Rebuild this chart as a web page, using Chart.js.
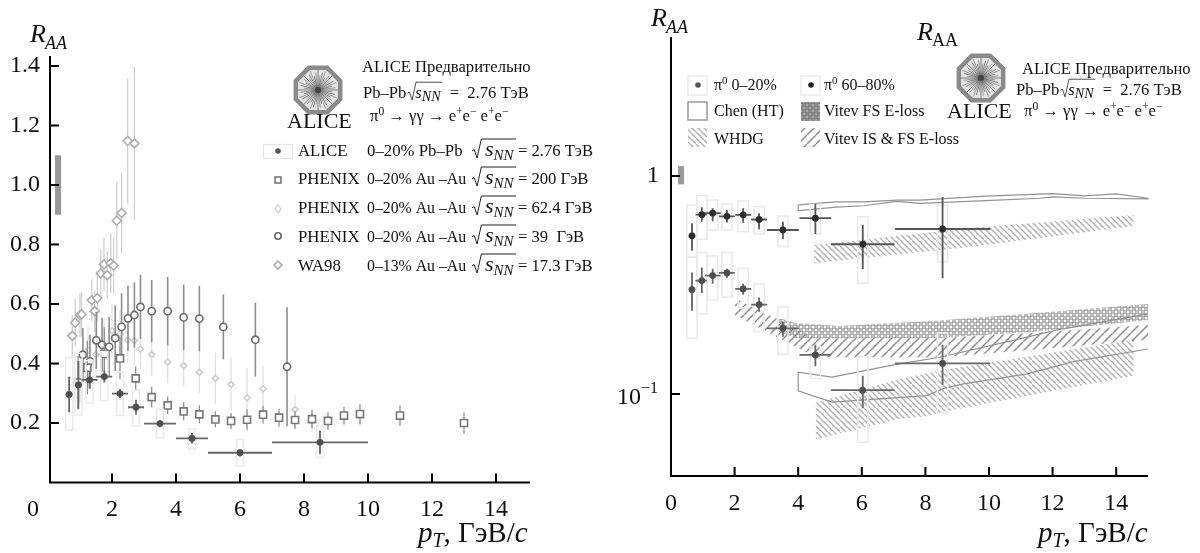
<!DOCTYPE html>
<html>
<head>
<meta charset="utf-8">
<script src="https://cdn.jsdelivr.net/npm/chart.js@4"></script>
<style>
html,body{margin:0;padding:0;background:#fff;overflow:hidden}
canvas{position:absolute;top:0}
#leftChart{left:0}
#rightChart{left:600px}
</style>
</head>
<body>
<canvas id="leftChart" width="600" height="553"></canvas>
<canvas id="rightChart" width="600" height="553"></canvas>
<script>
// left panel data, pT in GeV/c
const xTicks=[0,2,4,6,8,10,12,14];
const leftYTicks=[0.2,0.4,0.6,0.8,1.0,1.2,1.4];
const leftNorm=[0.9,1.1];

const alicePt=[0.66,0.95,1.3,1.76,2.25,2.75,3.5,4.5,6,8.5];
const aliceR=[0.296,0.328,0.345,0.356,0.299,0.253,0.198,0.148,0.100,0.135];
const aliceErr=[0.06,0.08,0.03,0.02,0.015,0.025,0.012,0.018,0.013,0.04];
const alicePtErr=[0.1,0.1,0.25,0.25,0.25,0.25,0.5,0.5,1,1.5];
const aliceSysLow=[0.176,0.227,0.266,0.275,0.225,0.19,0.15,0.112,0.056,0.085];
const aliceSysHigh=[0.42,0.434,0.41,0.44,0.372,0.311,0.246,0.179,0.145,0.19];

const ph200Pt=[0.94,1.23,1.76,2.25,2.74,3.24,3.74,4.24,4.73,5.23,5.72,6.22,6.72,7.22,7.72,8.25,8.75,9.25,9.75,11,13];
const ph200R=[0.336,0.386,0.432,0.417,0.35,0.287,0.259,0.239,0.229,0.212,0.207,0.211,0.228,0.218,0.21,0.213,0.207,0.225,0.23,0.225,0.2];
const ph200Err=[0.09,0.09,0.09,0.07,0.04,0.035,0.03,0.03,0.03,0.027,0.027,0.035,0.03,0.03,0.03,0.03,0.03,0.03,0.035,0.035,0.035];

const ph62Pt=[1.0,1.25,1.5,1.75,2.0,2.25,2.49,2.7,2.89,3.24,3.74,4.24,4.73,5.23,5.72,6.22,6.72,7.72,8.25];
const ph62R=[0.34,0.445,0.43,0.46,0.51,0.50,0.479,0.477,0.448,0.43,0.405,0.393,0.37,0.35,0.33,0.285,0.315,0.245,0.21];
const ph62Err=[0.07,0.08,0.09,0.09,0.09,0.08,0.075,0.08,0.07,0.07,0.07,0.07,0.07,0.087,0.09,0.1,0.075,0.05,0.04];

const ph39Pt=[1.09,1.31,1.51,1.69,1.91,2.1,2.3,2.5,2.7,2.89,3.24,3.74,4.24,4.73,5.48,6.48,7.47];
const ph39R=[0.429,0.407,0.478,0.463,0.456,0.485,0.523,0.552,0.563,0.59,0.576,0.576,0.555,0.551,0.523,0.48,0.389];
const ph39Err=[0.09,0.09,0.096,0.09,0.1,0.11,0.113,0.11,0.11,0.108,0.105,0.115,0.11,0.11,0.109,0.124,0.2];

const wa98Pt=[0.76,0.85,1.0,1.05,1.37,1.46,1.54,1.65,1.75,1.85,1.96,2.05,2.15,2.3,2.49,2.7];
const wa98R=[0.493,0.537,0.562,0.565,0.613,0.576,0.62,0.703,0.733,0.697,0.737,0.729,0.88,0.906,1.148,1.14];
const wa98Err=[0.07,0.08,0.075,0.075,0.07,0.07,0.08,0.08,0.09,0.08,0.1,0.095,0.13,0.135,0.21,0.258];

// right panel data
const rightYTicks=[1,0.1];
const rightNorm=[0.915,1.11];
const piPt=[0.66,0.97,1.31,1.76,2.27,2.77,3.52,4.54,6.03,8.54];
const piPtErr=[0.1,0.2,0.25,0.25,0.25,0.25,0.5,0.5,1,1.5];

const peri=[0.531,0.664,0.675,0.653,0.663,0.631,0.565,0.64,0.486,0.571];
const periLow=[0.454,0.617,0.62,0.611,0.61,0.57,0.513,0.542,0.373,0.339];
const periHigh=[0.607,0.718,0.71,0.698,0.71,0.675,0.617,0.744,0.596,0.80];
const periSysLow=[0.424,0.513,0.565,0.565,0.555,0.542,0.474,0.54,0.322,0.404];
const periSysHigh=[0.736,0.812,0.776,0.744,0.767,0.723,0.655,0.74,0.65,0.736];

const cent=[0.301,0.331,0.349,0.359,0.303,0.257,0.2,0.151,0.104,0.138];
const centLow=[0.241,0.29,0.32,0.34,0.285,0.238,0.183,0.134,0.086,0.11];
const centHigh=[0.361,0.38,0.375,0.375,0.32,0.277,0.215,0.168,0.121,0.168];
const centSysLow=[0.18,0.233,0.27,0.278,0.248,0.193,0.152,0.118,0.06,0.082];
const centSysHigh=[0.424,0.445,0.43,0.445,0.377,0.32,0.251,0.165,0.148,0.19];

// theory curves and bands
const chenTopPt=[4,5.2,6.07,7.1,7.84,9.9,12,13,14,15,15,13,12,11.6,9.9,7.84,7.1,6.07,5.2,4,4];
const chenTopR=[0.736,0.76,0.76,0.775,0.775,0.808,0.829,0.81,0.827,0.79,0.785,0.79,0.802,0.79,0.77,0.748,0.765,0.73,0.72,0.694,0.736];
const chenLowPt=[15,12.15,10.9,8.45,7,5.06,4,4,5.06,8.05,8.6,9.2,11.2,12.65,15];
const chenLowR=[0.2328,0.1966,0.178,0.1473,0.1358,0.1193,0.1258,0.1032,0.0916,0.0982,0.1062,0.1111,0.1235,0.1407,0.1607];

const whdgTopPt=[4.5,9.4,14.55];
const whdgTopHigh=[0.482,0.577,0.662];
const whdgTopLow=[0.398,0.472,0.589];
const whdgLowPt=[4.55,7.2,8.05,8.6,14.55];
const whdgLowHigh=[0.0912,0.117,0.1244,0.129,0.177];
const whdgLowLow=[0.062,0.0768,0.079,0.083,0.121];

const vitevFsPt=[3.4,3.9,5.3,8.45,11.4,15];
const vitevFsHigh=[0.2232,0.2117,0.205,0.217,0.2345,0.2587];
const vitevFsLow=[0.1923,0.1807,0.18,0.1807,0.193,0.2184];

const vitevIsPt=[2,3.5,4.55,8.47,11.3,15];
const vitevIsHigh=[0.2755,0.2147,0.18,0.1807,0.1905,0.2073];
const vitevIsLow=[0.23,0.177,0.1473,0.1473,0.159,0.177];

const leftLegend=[
  ['ALICE','0–20% Pb–Pb','= 2.76 ТэВ'],
  ['PHENIX','0–20% Au –Au','= 200 ГэВ'],
  ['PHENIX','0–20% Au –Au','= 62.4 ГэВ'],
  ['PHENIX','0–20% Au –Au','= 39  ГэВ'],
  ['WA98','0–13% Au –Au','= 17.3 ГэВ']
];

const serif='"Liberation Serif"';

function zip(xs,ys){ return xs.map((x,i)=>({x:x,y:ys[i]})); }

function rich(ctx,x,y,runs){
  // runs: text, size, style, rise
  ctx.textAlign='left';
  ctx.textBaseline='alphabetic';
  ctx.fillStyle='#111';
  runs.forEach(r=>{
    ctx.font=(r[2]||'normal')+' '+r[1]+'px '+serif;
    ctx.fillText(r[0],x,y-(r[3]||0));
    x+=ctx.measureText(r[0]).width;
  });
  return x;
}

function sqrtMark(ctx,x,y,w,h,lw){
  ctx.strokeStyle='#222';
  ctx.lineWidth=lw;
  ctx.beginPath();
  ctx.moveTo(x,y-h*0.3);
  ctx.lineTo(x+h*0.13,y-h*0.38);
  ctx.lineTo(x+h*0.3,y+h*0.12);
  ctx.lineTo(x+h*0.55,y-h);
  ctx.lineTo(x+w,y-h);
  ctx.stroke();
}

function logo(ctx,cx,cy,r){
  ctx.save();
  ctx.beginPath();
  for(let i=0;i<8;i++){
    const a=Math.PI/8+i*Math.PI/4;
    ctx.lineTo(cx+r*Math.cos(a),cy+r*Math.sin(a));
  }
  ctx.closePath();
  ctx.fillStyle='#e4e4e4';
  ctx.fill();
  ctx.strokeStyle='#8a8a8a';
  ctx.lineWidth=4.5;
  ctx.stroke();
  ctx.lineWidth=0.7;
  for(let i=0;i<48;i++){
    const a=i*Math.PI/24;
    const len=(i%3==0?0.84:i%3==1?0.6:0.74)*r;
    ctx.strokeStyle=i%2?'#777':'#555';
    ctx.beginPath();
    ctx.moveTo(cx,cy);
    ctx.lineTo(cx+len*Math.cos(a),cy+len*Math.sin(a));
    ctx.stroke();
  }
  ctx.fillStyle='#444';
  ctx.beginPath();
  ctx.arc(cx,cy,3,0,Math.PI*2);
  ctx.fill();
  ctx.restore();
}

function header(ctx,x1,y1,x2,y2,x3,y3,size){
  rich(ctx,x1,y1,[['ALICE Предварительно',size]]);
  let x=rich(ctx,x2,y2,[['Pb–Pb',size]]);
  sqrtMark(ctx,x+1,y2,35,size*0.95,0.8);
  x=rich(ctx,x+9,y2,[['s',size,'italic'],['NN',size*0.85,'italic',-3]]);
  rich(ctx,x+9,y2,[['=  2.76 ТэВ',size]]);
  rich(ctx,x3,y3,[['π',size],['0',size*0.7,'normal',6],[' → γγ → e',size],['+',size*0.7,'normal',6],['e',size],['−',size*0.7,'normal',6],[' e',size],['+',size*0.7,'normal',6],['e',size],['−',size*0.7,'normal',6]]);
}

// pattern tiles for the theory bands
function hatch(dir,step,color,lw){
  const c=document.createElement('canvas');
  c.width=step; c.height=step;
  const g=c.getContext('2d');
  g.strokeStyle=color;
  g.lineWidth=lw;
  for(let k=-1;k<=1;k++){
    g.beginPath();
    if(dir>0){ g.moveTo(k*step,step); g.lineTo(k*step+step,0); }
    else{ g.moveTo(k*step,0); g.lineTo(k*step+step,step); }
    g.stroke();
  }
  return g.createPattern(c,'repeat');
}
function lattice(){
  const c=document.createElement('canvas');
  c.width=6; c.height=6;
  const g=c.getContext('2d');
  g.strokeStyle='#929292';
  g.lineWidth=1;
  [[0,0],[6,0],[0,6],[6,6],[3,3]].forEach(p=>{
    g.beginPath();
    g.arc(p[0],p[1],2,0,Math.PI*2);
    g.stroke();
  });
  return g.createPattern(c,'repeat');
}
const whdgHatch=hatch(-1,6,'#b0b0b0',1.4);
const isHatch=hatch(1,9,'#8a8a8a',1.5);
const fsLattice=lattice();

function points(label,xs,ys,style,radius,color,errColor,errWidth,extra){
  return Object.assign({
    label:label,
    data:zip(xs,ys),
    pointStyle:style,
    pointRadius:radius,
    pointBorderColor:color,
    pointBackgroundColor:'#fff',
    pointBorderWidth:1.6,
    showLine:false,
    errColor:errColor,
    errWidth:errWidth
  },extra);
}

function band(label,xs,high,low,pattern){
  return [
    {type:'line',label:label+' top',data:zip(xs,high),borderWidth:0,pointRadius:0,fill:false,tension:0,order:20},
    {type:'line',label:label,data:zip(xs,low),borderWidth:0,pointRadius:0,fill:'-1',backgroundColor:pattern,tension:0,order:20}
  ];
}

function outline(label,xs,ys,width){
  return {type:'line',label:label,data:zip(xs,ys),borderColor:'#929292',borderWidth:width,pointRadius:0,fill:false,tension:0,order:15};
}

// error bars and syst. boxes of each series, drawn just under its markers
const errorBars={
  id:'errorBars',
  beforeDatasetDraw(chart,args){
    const ds=chart.data.datasets[args.index];
    if(!ds.errLow && !ds.sysLow) return;
    const ctx=chart.ctx, xs=chart.scales.x, ys=chart.scales.y;
    ctx.save();
    ds.data.forEach((p,i)=>{
      const px=xs.getPixelForValue(p.x), py=ys.getPixelForValue(p.y);
      if(ds.sysLow){
        ctx.strokeStyle='#eaeaea';
        ctx.lineWidth=1.6;
        const x0=xs.getPixelForValue(p.x-ds.sysHalf), x1=xs.getPixelForValue(p.x+ds.sysHalf);
        const y0=ys.getPixelForValue(ds.sysHigh[i]), y1=ys.getPixelForValue(ds.sysLow[i]);
        ctx.strokeRect(x0,y0,x1-x0,y1-y0);
      }
      ctx.strokeStyle=ds.errColor;
      ctx.lineWidth=ds.errWidth;
      ctx.beginPath();
      ctx.moveTo(px,ys.getPixelForValue(ds.errHigh[i]));
      ctx.lineTo(px,ys.getPixelForValue(ds.errLow[i]));
      if(ds.ptErr){
        ctx.moveTo(xs.getPixelForValue(p.x-ds.ptErr[i]),py);
        ctx.lineTo(xs.getPixelForValue(p.x+ds.ptErr[i]),py);
      }
      ctx.stroke();
    });
    ctx.restore();
  }
};

// the axes of the journal figure: ticks point inwards
function axesPlugin(yOffset,yTicks,norm,firstTick){
  return {
    id:'innerAxes',
    afterDraw(chart){
      const ctx=chart.ctx, xs=chart.scales.x, ys=chart.scales.y, a=chart.chartArea;
      const ax=a.left+yOffset;
      ctx.save();
      ctx.fillStyle='#999';
      const b0=xs.getPixelForValue(0.22), b1=xs.getPixelForValue(0.41);
      const t=ys.getPixelForValue(norm[1]), bt=ys.getPixelForValue(norm[0]);
      ctx.fillRect(b0,t,b1-b0,bt-t);
      ctx.strokeStyle='#000';
      ctx.lineWidth=2;
      ctx.beginPath();
      ctx.moveTo(ax,a.top);
      ctx.lineTo(ax,a.bottom);
      ctx.lineTo(a.right+yOffset,a.bottom);
      xTicks.forEach(v=>{
        if(v==0 && !firstTick) return;
        const p=v==0?ax:xs.getPixelForValue(v);
        ctx.moveTo(p,a.bottom);
        ctx.lineTo(p,a.bottom-9);
      });
      yTicks.forEach(v=>{
        const p=ys.getPixelForValue(v);
        ctx.moveTo(ax,p);
        ctx.lineTo(ax+9,p);
      });
      ctx.stroke();
      ctx.restore();
    }
  };
}

const leftText={
  id:'leftText',
  afterDraw(chart){
    const ctx=chart.ctx;
    rich(ctx,30,42,[['R',26,'italic']]);
    rich(ctx,45,49,[['AA',18,'italic']]);
    rich(ctx,27,516,[['0',24]]);
    rich(ctx,418,542,[['p',29,'italic'],['T',20,'italic',-5],[', ГэВ/',29],['c',29,'italic']]);
    logo(ctx,318,90,24);
    rich(ctx,287,128,[['ALICE',22]]);
    header(ctx,362,72,363,98,370,121,16.6);
    const rows=[156,184,213,242,271];
    // legend markers
    ctx.save();
    ctx.strokeStyle='#e4e4e4';
    ctx.lineWidth=1.2;
    ctx.strokeRect(263.5,144.5,29,14);
    ctx.fillStyle='#555';
    ctx.beginPath(); ctx.arc(278,151,2.8,0,Math.PI*2); ctx.fill();
    ctx.strokeStyle='#777';
    ctx.lineWidth=1.6;
    ctx.strokeRect(275,177,6,6);
    ctx.strokeStyle='#ccc';
    ctx.lineWidth=1.2;
    ctx.beginPath(); ctx.moveTo(278,205); ctx.lineTo(281,209); ctx.lineTo(278,213); ctx.lineTo(275,209); ctx.closePath(); ctx.stroke();
    ctx.strokeStyle='#666';
    ctx.lineWidth=1.6;
    ctx.beginPath(); ctx.arc(278,236,3.2,0,Math.PI*2); ctx.stroke();
    ctx.strokeStyle='#aaa';
    ctx.beginPath(); ctx.moveTo(278,261); ctx.lineTo(282,265); ctx.lineTo(278,269); ctx.lineTo(274,265); ctx.closePath(); ctx.stroke();
    ctx.restore();
    leftLegend.forEach((row,i)=>{
      const y=rows[i];
      rich(ctx,298,y,[[row[0],16.8]]);
      rich(ctx,367,y,[[row[1],i==0?16.8:15.8]]);
      sqrtMark(ctx,472,y,44,17,1);
      rich(ctx,485,y,[['s',22,'italic'],['NN',15,'italic',-4]]);
      rich(ctx,518,y,[[row[2],16.6]]);
    });
    ctx.fillStyle='#000';
  }
};

const rightText={
  id:'rightText',
  afterDraw(chart){
    const ctx=chart.ctx, dx=-600;
    rich(ctx,651+dx,26,[['R',26,'italic']]);
    rich(ctx,666+dx,33,[['AA',18,'italic']]);
    rich(ctx,917+dx,40,[['R',26,'italic']]);
    rich(ctx,932+dx,46,[['AA',18]]);
    rich(ctx,617+dx,404,[['10',24],['−1',16,'normal',11]]);
    rich(ctx,1038+dx,542,[['p',29,'italic'],['T',20,'italic',-5],[', ГэВ/',29],['c',29,'italic']]);
    logo(ctx,981+dx,78,24);
    rich(ctx,947+dx,118,[['ALICE',22]]);
    header(ctx,1022+dx,74,1016+dx,95,1024+dx,116,16.6);
    // legend swatches
    ctx.save();
    ctx.strokeStyle='#e6e6e6';
    ctx.lineWidth=1.2;
    ctx.strokeRect(688+dx,76,19,19);
    ctx.strokeRect(801+dx,76,19,19);
    ctx.fillStyle='#555';
    ctx.beginPath(); ctx.arc(698+dx,85,2.8,0,Math.PI*2); ctx.fill();
    ctx.fillStyle='#222';
    ctx.beginPath(); ctx.arc(811+dx,85,2.8,0,Math.PI*2); ctx.fill();
    ctx.strokeStyle='#999';
    ctx.lineWidth=1.5;
    ctx.strokeRect(688+dx,102,19,18);
    ctx.fillStyle=fsLattice;
    ctx.fillRect(801+dx,102,19,19);
    ctx.fillStyle='#555';
    ctx.globalAlpha=0.5;
    ctx.fillRect(801+dx,102,19,19);
    ctx.globalAlpha=1;
    ctx.fillStyle=whdgHatch;
    ctx.fillRect(688+dx,128,19,19);
    ctx.fillStyle=isHatch;
    ctx.fillRect(801+dx,128,19,19);
    ctx.restore();
    rich(ctx,714+dx,90,[['π',16],['0',11,'normal',6],[' 0–20%',16]]);
    rich(ctx,824+dx,90,[['π',16],['0',11,'normal',6],[' 60–80%',16]]);
    rich(ctx,714+dx,116,[['Chen (HT)',16]]);
    rich(ctx,824+dx,116,[['Vitev FS E-loss',16]]);
    rich(ctx,714+dx,144,[['WHDG',16]]);
    rich(ctx,824+dx,144,[['Vitev IS & FS E-loss',16]]);
  }
};

function setTicks(values){
  return scale=>{ scale.ticks=values.map(v=>({value:v})); };
}

// fixed box sizes keep the plot area where the figure has it
function baseScales(yType,yMin,yMax,yTicks,yLabel,xLabel,yPad,boxW,boxH){
  return {
    x:{
      type:'linear',min:0,max:15,
      grid:{display:false,drawTicks:false},border:{display:false},
      afterBuildTicks:setTicks(xTicks),
      afterFit(s){ s.height=boxH; },
      ticks:{autoSkip:false,maxRotation:0,padding:13,color:'#111',font:{family:serif,size:24},callback:xLabel}
    },
    y:{
      type:yType,min:yMin,max:yMax,
      grid:{display:false,drawTicks:false},border:{display:false},
      afterBuildTicks:setTicks(yTicks),
      afterFit(s){ s.width=boxW; },
      ticks:{autoSkip:false,padding:yPad,color:'#111',font:{family:serif,size:24},callback:yLabel}
    }
  };
}

const leftData=[
  points('WA98',wa98Pt,wa98R,'rectRot',4.5,'#adadad','#cfcfcf',1.3,{errLow:wa98R.map((v,i)=>v-wa98Err[i]),errHigh:wa98R.map((v,i)=>v+wa98Err[i]),order:6}),
  points('PHENIX 62.4',ph62Pt,ph62R,'rectRot',3,'#cccccc','#e0e0e0',1.3,{errLow:ph62R.map((v,i)=>v-ph62Err[i]),errHigh:ph62R.map((v,i)=>v+ph62Err[i]),order:5}),
  points('PHENIX 39',ph39Pt,ph39R,'circle',3.6,'#6a6a6a','#8c8c8c',1.6,{errLow:ph39R.map((v,i)=>v-ph39Err[i]),errHigh:ph39R.map((v,i)=>v+ph39Err[i]),order:4}),
  points('PHENIX 200',ph200Pt,ph200R,'rect',5,'#777777','#8e8e8e',1.3,{errLow:ph200R.map((v,i)=>v-ph200Err[i]),errHigh:ph200R.map((v,i)=>v+ph200Err[i]),order:3}),
  points('ALICE',alicePt,aliceR,'circle',2.6,'#4f4f4f','#666666',1.8,{
    pointBackgroundColor:'#4f4f4f',
    errLow:aliceR.map((v,i)=>v-aliceErr[i]),errHigh:aliceR.map((v,i)=>v+aliceErr[i]),
    ptErr:alicePtErr,sysLow:aliceSysLow,sysHigh:aliceSysHigh,sysHalf:0.11,order:1})
];

const rightData=[
  ...band('Vitev FS',vitevFsPt,vitevFsHigh,vitevFsLow,fsLattice),
  ...band('Vitev IS FS',vitevIsPt,vitevIsHigh,vitevIsLow,isHatch),
  ...band('WHDG 60-80',whdgTopPt,whdgTopHigh,whdgTopLow,whdgHatch),
  ...band('WHDG 0-20',whdgLowPt,whdgLowHigh,whdgLowLow,whdgHatch),
  outline('Chen 60-80',chenTopPt,chenTopR,1.2),
  outline('Chen 0-20',chenLowPt,chenLowR,1.2),
  points('pi0 0-20',piPt,cent,'circle',2.6,'#4f4f4f','#666666',1.8,{
    pointBackgroundColor:'#4f4f4f',errLow:centLow,errHigh:centHigh,ptErr:piPtErr,
    sysLow:centSysLow,sysHigh:centSysHigh,sysHalf:0.16,order:2}),
  points('pi0 60-80',piPt,peri,'circle',2.6,'#2e2e2e','#555555',1.8,{
    pointBackgroundColor:'#2e2e2e',errLow:periLow,errHigh:periHigh,ptErr:piPtErr,
    sysLow:periSysLow,sysHigh:periSysHigh,sysHalf:0.16,order:1})
];

new Chart(document.getElementById('leftChart').getContext('2d'),{
  type:'scatter',
  data:{datasets:leftData},
  options:{
    responsive:false,
    animation:false,
    clip:false,
    layout:{padding:{left:0,right:72,top:56,bottom:0}},
    plugins:{legend:{display:false},tooltip:{enabled:false},title:{display:false}},
    scales:baseScales('linear',0,1.4336,leftYTicks,v=>Number(v).toFixed(1),v=>v==0?'':String(v),8,48,70.5)
  },
  plugins:[errorBars,axesPlugin(2,leftYTicks,leftNorm,false),leftText]
});

new Chart(document.getElementById('rightChart').getContext('2d'),{
  type:'scatter',
  data:{datasets:rightData},
  options:{
    responsive:false,
    animation:false,
    clip:false,
    layout:{padding:{left:0,right:52,top:37,bottom:0}},
    plugins:{legend:{display:false},tooltip:{enabled:false},title:{display:false}},
    scales:baseScales('logarithmic',0.042,4.34,rightYTicks,v=>v==1?'1':'',v=>String(v),12,71,77)
  },
  plugins:[errorBars,axesPlugin(0,rightYTicks,rightNorm,true),rightText]
});
</script>
</body>
</html>
